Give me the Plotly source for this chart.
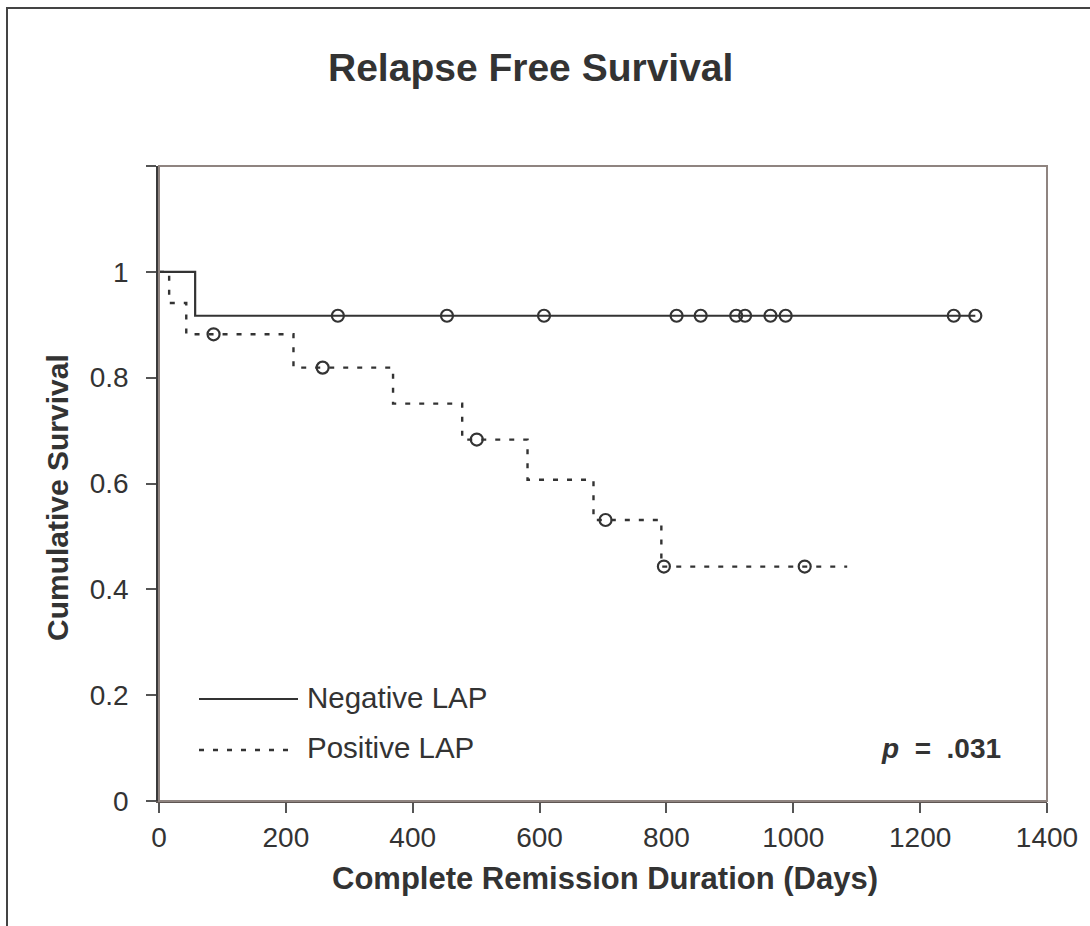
import plotly.graph_objects as go

# ---- data ----
neg_days = [0, 57, 1287]
neg_surv = [1.0, 0.917, 0.917]
neg_censor_days = [282, 454, 607, 816, 854, 910, 924, 964, 988, 1253, 1287]
neg_censor_surv = [0.917] * 11

pos_days = [0, 16, 43, 212, 369, 478, 581, 685, 792, 1085]
pos_surv = [1.0, 0.941, 0.882, 0.819, 0.751, 0.683, 0.607, 0.531, 0.443, 0.443]
pos_censor_days = [86, 258, 501, 704, 796, 1018]
pos_censor_surv = [0.882, 0.819, 0.683, 0.531, 0.443, 0.443]

x_ticks = [0, 200, 400, 600, 800, 1000, 1200, 1400]
y_ticks = [0, 0.2, 0.4, 0.6, 0.8, 1.0, 1.2]
y_ticktext = ["0", "0.2", "0.4", "0.6", "0.8", "1", ""]

INK = "#333333"
FONT = "Liberation Sans, Arial, Helvetica, sans-serif"

fig = go.Figure()
fig.add_trace(go.Scatter(x=neg_days, y=neg_surv, mode="lines", line_shape="hv",
                         line=dict(color=INK, width=2.2), name="Negative LAP", showlegend=False))
fig.add_trace(go.Scatter(x=neg_censor_days, y=neg_censor_surv, mode="markers",
                         marker=dict(symbol="circle-open", size=12, color=INK, line=dict(width=2.2, color=INK)),
                         showlegend=False))
fig.add_trace(go.Scatter(x=pos_days, y=pos_surv, mode="lines", line_shape="hv",
                         line=dict(color=INK, width=2.4, dash="5px,9px"), name="Positive LAP", showlegend=False))
fig.add_trace(go.Scatter(x=pos_censor_days, y=pos_censor_surv, mode="markers",
                         marker=dict(symbol="circle-open", size=12, color=INK, line=dict(width=2.2, color=INK)),
                         showlegend=False))

# plot-area geometry (px)
L, R, T, B = 159, 1047, 166, 801
W, H = R - L, B - T
def px_x(p): return (p - L) / W
def px_y(p): return (B - p) / H

shapes = [
    # outer frame
    dict(type="rect", xref="paper", yref="paper", x0=px_x(7), x1=px_x(1100), y0=px_y(940), y1=px_y(8),
         line=dict(color="#444444", width=2), layer="below"),
    # plot frame
    dict(type="rect", xref="paper", yref="paper", x0=0, x1=1, y0=0, y1=1,
         line=dict(color="#8f8480", width=2), layer="above"),
    # legend line samples
    dict(type="line", xref="paper", yref="paper", x0=px_x(199), x1=px_x(298), y0=px_y(699), y1=px_y(699),
         line=dict(color=INK, width=2.2)),
    dict(type="line", xref="paper", yref="paper", x0=px_x(199), x1=px_x(292), y0=px_y(750), y1=px_y(750),
         line=dict(color=INK, width=2.4, dash="5px,9px")),
]

annotations = [
    dict(text="<b>Relapse Free Survival</b>", xref="paper", yref="paper", x=px_x(530), y=px_y(68),
         xanchor="center", yanchor="middle", showarrow=False, font=dict(size=39, color=INK, family=FONT)),
    dict(text="<b>Cumulative Survival</b>", xref="paper", yref="paper", x=px_x(57), y=px_y(498),
         xanchor="center", yanchor="middle", textangle=-90, showarrow=False,
         font=dict(size=30, color=INK, family=FONT)),
    dict(text="<b>Complete Remission Duration (Days)</b>", xref="paper", yref="paper", x=px_x(605), y=px_y(878),
         xanchor="center", yanchor="middle", showarrow=False, font=dict(size=31, color=INK, family=FONT)),
    dict(text="Negative LAP", xref="paper", yref="paper", x=px_x(305), y=px_y(697),
         xanchor="left", yanchor="middle", showarrow=False, font=dict(size=29.5, color=INK, family=FONT)),
    dict(text="Positive LAP", xref="paper", yref="paper", x=px_x(305), y=px_y(747),
         xanchor="left", yanchor="middle", showarrow=False, font=dict(size=29.5, color=INK, family=FONT)),
    dict(text="<b><i>p</i>  =  .031</b>", xref="paper", yref="paper", x=px_x(1003), y=px_y(748),
         xanchor="right", yanchor="middle", showarrow=False, font=dict(size=28, color=INK, family=FONT)),
]

fig.update_layout(
    width=1090, height=926,
    margin=dict(l=L, r=1090 - R, t=T, b=926 - B, pad=0),
    paper_bgcolor="white", plot_bgcolor="white",
    font=dict(family=FONT, color=INK, size=28),
    shapes=shapes, annotations=annotations,
    showlegend=False,
)
fig.update_xaxes(range=[0, 1400], tickvals=x_ticks, ticks="outside", ticklen=10, tickwidth=1.5,
                 tickcolor="#555555", showgrid=False, zeroline=False, showline=True,
                 linecolor="#5e5552", linewidth=2, tickfont=dict(size=28, color=INK), fixedrange=True)
fig.update_yaxes(range=[0, 1.2], tickvals=y_ticks, ticktext=y_ticktext, ticks="outside", ticklen=10,
                 tickwidth=1.5, tickcolor="#555555", showgrid=False, zeroline=False, showline=True,
                 linecolor="#3a3a3a", linewidth=2.5, tickfont=dict(size=28, color=INK),
                 ticklabelstandoff=12, fixedrange=True)

fig.write_html("out.html")
